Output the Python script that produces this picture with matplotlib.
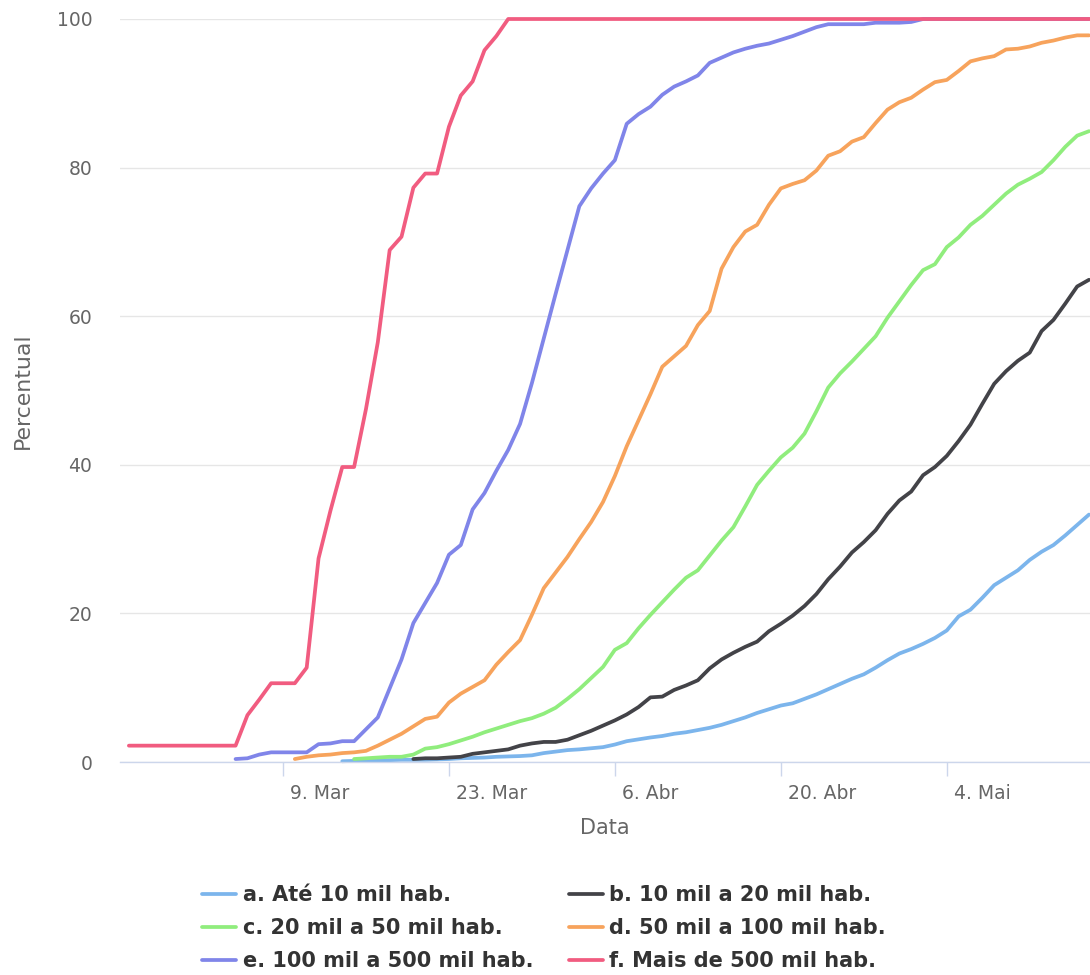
import matplotlib
matplotlib.use("Agg")
import matplotlib.pyplot as plt
import matplotlib.transforms as mtransforms
import pandas as pd

# percentual acumulado de municipios com casos, por faixa de populacao
starts = ["2020-03-14", "2020-03-20", "2020-03-15", "2020-03-10", "2020-03-05", "2020-02-25"]
labels = ["a. Até 10 mil hab.", "b. 10 mil a 20 mil hab.", "c. 20 mil a 50 mil hab.",
          "d. 50 mil a 100 mil hab.", "e. 100 mil a 500 mil hab.", "f. Mais de 500 mil hab."]
colors = ["#7cb5ec", "#434348", "#90ed7d", "#f7a35c", "#8085e9", "#f15c80"]

a = [0.1, 0.15, 0.2, 0.2, 0.25, 0.3, 0.3, 0.3, 0.35, 0.4, 0.5, 0.55, 0.6, 0.7, 0.75, 0.8, 0.9, 1.2,
     1.4, 1.6, 1.7, 1.85, 2.0, 2.35, 2.8, 3.05, 3.3, 3.5, 3.8, 4.0, 4.3, 4.6, 5.0, 5.5, 6.0, 6.6,
     7.1, 7.6, 7.9, 8.5, 9.1, 9.8, 10.5, 11.2, 11.8, 12.7, 13.7, 14.6,
     15.2, 15.9, 16.7, 17.7, 19.6, 20.5, 22.1, 23.8, 24.8, 25.8, 27.2, 28.3, 29.2, 30.5, 31.9, 33.3]
b = [0.4, 0.5, 0.5, 0.6, 0.7, 1.1, 1.3, 1.5, 1.7, 2.2, 2.5, 2.7,
     2.7, 3.0, 3.6, 4.2, 4.9, 5.6, 6.4, 7.4, 8.7, 8.8, 9.7, 10.3, 11.0, 12.6, 13.8, 14.7, 15.5,
     16.2, 17.6, 18.6, 19.7, 21.0, 22.6, 24.6, 26.3, 28.2, 29.6, 31.2, 33.4, 35.2,
     36.4, 38.6, 39.7, 41.2, 43.2, 45.4, 48.2, 50.9, 52.6, 54.0, 55.1, 58.0, 59.5, 61.7, 64.0, 64.9]
c = [0.4, 0.5, 0.6, 0.7, 0.7, 1.0, 1.8, 2.0, 2.4, 2.9, 3.4, 4.0, 4.5, 5.0, 5.5, 5.9, 6.5,
     7.3, 8.5, 9.8, 11.3, 12.8, 15.1, 16.0, 18.0, 19.8, 21.5, 23.2, 24.8, 25.8, 27.8, 29.8,
     31.6, 34.4, 37.3, 39.2, 41.0, 42.3, 44.2, 47.2, 50.4, 52.3, 53.9, 55.6, 57.3, 59.8, 62.0,
     64.2, 66.2, 67.0, 69.3, 70.6, 72.3, 73.5, 75.0, 76.5, 77.7, 78.5, 79.4, 81.0, 82.8, 84.3, 84.9]
d = [0.4, 0.7, 0.9, 1.0, 1.2, 1.3, 1.5, 2.2, 3.0, 3.8, 4.8, 5.8, 6.1, 8.0, 9.2, 10.1, 11.0,
     13.1, 14.8, 16.4, 19.8, 23.4,
     25.5, 27.6, 30.0, 32.3, 35.0, 38.5, 42.5, 46.0, 49.5, 53.2, 54.6, 56.0, 58.8, 60.7, 66.4,
     69.3, 71.4, 72.3, 75.0, 77.2, 77.8, 78.3, 79.6, 81.6, 82.2, 83.5, 84.1, 86.0, 87.8, 88.8,
     89.4, 90.5, 91.5, 91.8, 93.0, 94.3, 94.7, 95.0, 95.9, 96.0, 96.3, 96.8, 97.1, 97.5, 97.8, 97.8]
e = [0.4, 0.5, 1.0, 1.3, 1.3, 1.3, 1.3, 2.4, 2.5, 2.8, 2.8, 4.4, 6.0, 9.9, 13.8, 18.7, 21.4,
     24.1, 27.9, 29.2, 34.0, 36.2, 39.2, 42.0, 45.5, 51.0, 57.0,
     63.0, 68.9, 74.8, 77.2, 79.2, 81.0, 85.9, 87.2, 88.2, 89.8, 90.9, 91.6, 92.4, 94.1, 94.8,
     95.5, 96.0, 96.4, 96.7, 97.2, 97.7, 98.3, 98.9, 99.3, 99.3, 99.3, 99.3, 99.5, 99.5, 99.5,
     99.6, 100, 100, 100, 100, 100, 100, 100, 100, 100, 100, 100, 100, 100, 100, 100]
f = [2.2, 2.2, 2.2, 2.2, 2.2, 2.2, 2.2, 2.2, 2.2, 2.2,
     6.3, 8.4, 10.6, 10.6, 10.6, 12.7, 27.4, 33.8, 39.7, 39.7, 47.5, 56.5, 68.9, 70.7, 77.3,
     79.2, 79.2, 85.5, 89.7, 91.6, 95.8, 97.7,
     100, 100, 100, 100, 100, 100, 100, 100, 100, 100, 100, 100, 100, 100, 100, 100, 100,
     100, 100, 100, 100, 100, 100, 100, 100, 100, 100, 100, 100, 100, 100, 100, 100, 100,
     100, 100, 100, 100, 100, 100, 100, 100, 100, 100, 100, 100, 100, 100, 100, 100, 100]
series = [a, b, c, d, e, f]

tick_dates = ["2020-03-09", "2020-03-23", "2020-04-06", "2020-04-20", "2020-05-04"]
tick_labels = ["9. Mar", "23. Mar", "6. Abr", "20. Abr", "4. Mai"]

plt.rcParams['font.family'] = ['DejaVu Sans']

fig = plt.figure(figsize=(10.9, 9.75), dpi=100)
ax = fig.add_axes([120 / 1090, 213 / 975, 970 / 1090, 743 / 975])

handles = []
for vals, s, lab, col in zip(series, starts, labels, colors):
    x = pd.date_range(s, periods=len(vals), freq="D")
    h, = ax.plot(x, vals, color=col, lw=2.7, label=lab, clip_on=False,
                 solid_joinstyle="round", solid_capstyle="round")
    handles.append(h)

ax.set_ylim(0, 100)
ax.set_xlim(pd.Timestamp("2020-02-24 06:00"), pd.Timestamp("2020-05-16 02:00"))
ax.set_yticks([0, 20, 40, 60, 80, 100])
ax.grid(axis="y", color="#e6e6e6", lw=1)
ax.set_axisbelow(True)
for sp in ["top", "right", "left"]:
    ax.spines[sp].set_visible(False)
ax.spines["bottom"].set_color("#ccd6eb")
ax.spines["bottom"].set_linewidth(1)

ax.set_xticks(pd.to_datetime(tick_dates))
ax.set_xticklabels(tick_labels)
ax.tick_params(axis="x", colors="#ccd6eb", length=10, width=1, pad=6,
               labelcolor="#666666", labelsize=13.5)
ax.tick_params(axis="y", length=0, pad=20, labelcolor="#666666", labelsize=13.5)
offset = mtransforms.ScaledTranslation(7 / 100, 0, fig.dpi_scale_trans)
for lbl in ax.get_xticklabels():
    lbl.set_horizontalalignment("left")
    lbl.set_transform(lbl.get_transform() + offset)

ax.set_xlabel("Data", color="#666666", fontsize=15, labelpad=10.5)
ax.set_ylabel("Percentual", color="#666666", fontsize=15.8, labelpad=17)

# legenda em duas colunas, ordem por linha
order = [0, 2, 4, 1, 3, 5]
leg = fig.legend([handles[i] for i in order], [labels[i] for i in order],
                 loc="center", bbox_to_anchor=(544 / 1090, 1 - 928 / 975), ncol=2,
                 frameon=False, handlelength=1.65, handletextpad=0.3, columnspacing=1.7,
                 labelspacing=0.62, prop={"weight": "bold", "size": 15})
for t in leg.get_texts():
    t.set_color("#333333")

fig.savefig("out.png", dpi=100)
